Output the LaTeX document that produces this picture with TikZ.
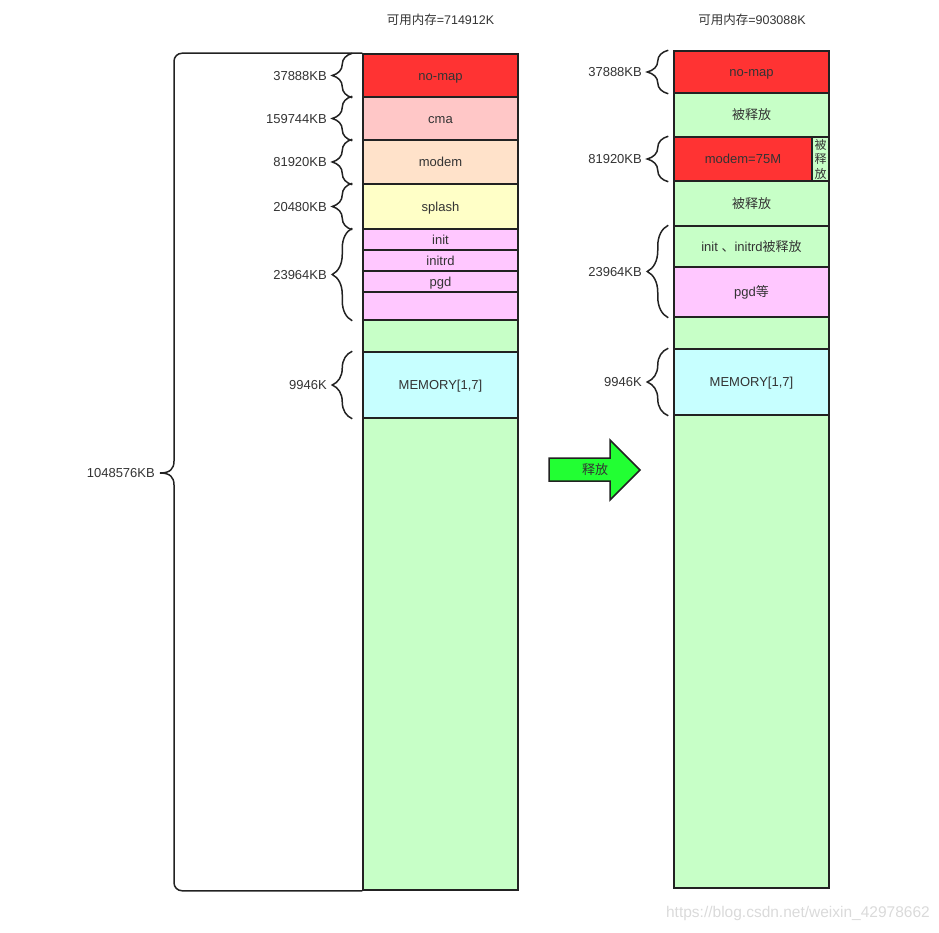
\documentclass[tikz,border=0pt]{standalone}
\usepackage{fontspec}
\setmainfont{Liberation Sans}
\newfontfamily\cjk{Noto Sans CJK SC}
\usetikzlibrary{decorations.pathreplacing,calc}
\definecolor{strokec}{HTML}{222222}
\definecolor{textc}{HTML}{333333}
\definecolor{redc}{HTML}{FF3333}
\definecolor{cmac}{HTML}{FFC7C7}
\definecolor{modemc}{HTML}{FFE2CA}
\definecolor{splashc}{HTML}{FFFFC7}
\definecolor{pinkc}{HTML}{FFC7FF}
\definecolor{greenc}{HTML}{C7FFC7}
\definecolor{memc}{HTML}{C7FFFF}
\definecolor{arrowc}{HTML}{22FF33}
\definecolor{wmc}{HTML}{DADADA}
\begin{document}
\begin{tikzpicture}[x=1pt,y=-1pt,
  blk/.style={draw=strokec, line width=1.5pt, minimum width=155pt, inner sep=0pt,
    font=\fontsize{13}{15}\selectfont, text=textc},
  one/.style={text height=9.3pt, text depth=0pt},
  lbl/.style={anchor=east, inner sep=0pt, font=\fontsize{13}{15}\selectfont, text=textc,
    text height=9.3pt, text depth=0pt},
  ttl/.style={inner sep=0pt, font=\fontsize{12.5}{15}\selectfont, text=textc,
    text height=9.3pt, text depth=0pt},
  brcL/.style={draw=strokec, line width=1.5pt, decorate, decoration={brace, amplitude=20pt}},
  brcR/.style={draw=strokec, line width=1.5pt, decorate, decoration={brace, amplitude=21pt}},
  bigbrc/.style={draw=strokec, line width=1.5pt},
  arr/.style={draw=strokec, line width=1.5pt, fill=arrowc, line join=miter}]
\useasboundingbox (0,0) rectangle (939,933);

% titles
\node[ttl] (titleL) at (440.5,20) {{\cjk 可用内存}=714912K};
\node[ttl] (titleR) at (752,20) {{\cjk 可用内存}=903088K};

% left column
\node[blk, one, fill=redc,    minimum height=43pt] (nomapL)  at (440.5,75.5)  {no-map};
\node[blk, one, fill=cmac,    minimum height=43pt] (cmaL)    at (440.5,118.5) {cma};
\node[blk, one, fill=modemc,  minimum height=44pt] (modemL)  at (440.5,162)   {modem};
\node[blk, one, fill=splashc, minimum height=45pt] (splashL) at (440.5,206.5) {splash};
\node[blk, one, fill=pinkc,   minimum height=21pt] (initL)   at (440.5,239.5) {init};
\node[blk, one, fill=pinkc,   minimum height=21pt] (initrdL) at (440.5,260.5) {initrd};
\node[blk, one, fill=pinkc,   minimum height=21pt] (pgdL)    at (440.5,281.5) {pgd};
\node[blk, fill=pinkc,   minimum height=28pt] (pinkL)   at (440.5,306)   {};
\node[blk, fill=greenc,  minimum height=32pt] (gapL)    at (440.5,336)   {};
\node[blk, one, fill=memc,    minimum height=66pt] (memL)    at (440.5,385)   {MEMORY[1,7]};
\node[blk, fill=greenc,  minimum height=472pt] (restL)  at (440.5,654)   {};

% left braces
\draw[brcL] ([xshift=-10pt]nomapL.south west) -- ([xshift=-10pt]nomapL.north west);
\draw[brcL] ([xshift=-10pt]cmaL.south west) -- ([xshift=-10pt]cmaL.north west);
\draw[brcL] ([xshift=-10pt]modemL.south west) -- ([xshift=-10pt]modemL.north west);
\draw[brcL] ([xshift=-10pt]splashL.south west) -- ([xshift=-10pt]splashL.north west);
\draw[brcL] ([xshift=-10pt]pinkL.south west) -- ([xshift=-10pt]initL.north west);
\draw[brcL] ([xshift=-10pt]memL.south west) -- ([xshift=-10pt]memL.north west);

\node[lbl] (l1) at (327,75.5)  {37888KB};
\node[lbl] (l2) at (327,118.5) {159744KB};
\node[lbl] (l3) at (327,162)   {81920KB};
\node[lbl] (l4) at (327,206.5) {20480KB};
\node[lbl] (l5) at (327,274.5) {23964KB};
\node[lbl] (l6) at (327,385)   {9946K};

% big brace
\draw[bigbrc] (nomapL.north west) [rounded corners=8pt] -| (174,300) [sharp corners]
  -- (174,461) .. controls (174,469) and (170,473) .. (160,473)
  .. controls (170,473) and (174,477) .. (174,485)
  [rounded corners=8pt] |- (restL.south west);
\node[lbl] (lbig) at (155,473) {1048576KB};

% arrow
\draw[arr] (549,458) -- (610,458) -- (610,440) -- (640,470) -- (610,500) -- (610,481) -- (549,481) -- cycle;
\node[ttl, font=\fontsize{13}{15}\selectfont] (arrtext) at (595,470) {\cjk 释放};

% right column
\node[blk, one, fill=redc,   minimum height=42pt] (nomapR) at (751.5,72)  {no-map};
\node[blk, one, fill=greenc, minimum height=44pt] (rel1R)  at (751.5,115) {\cjk 被释放};
\node[blk, one, fill=redc,   minimum height=44pt, minimum width=138pt] (modemR) at (743,159) {modem=75M};
\node[blk, fill=greenc, minimum height=44pt, minimum width=17pt, align=center,
      font=\cjk\fontsize{12}{14.5}\selectfont] (relsR) at (820.5,159) {被\\释\\放};
\node[blk, one, fill=greenc, minimum height=45pt] (rel2R)  at (751.5,203.5) {\cjk 被释放};
\node[blk, one, fill=greenc, minimum height=41pt] (initR)  at (751.5,246.5) {init {\cjk 、}initrd{\cjk 被释放}};
\node[blk, one, fill=pinkc,  minimum height=50pt] (pgdR)   at (751.5,292)   {pgd{\cjk 等}};
\node[blk, fill=greenc, minimum height=32pt] (gapR)   at (751.5,333)   {};
\node[blk, one, fill=memc,   minimum height=66pt] (memR)   at (751.5,382)   {MEMORY[1,7]};
\node[blk, fill=greenc, minimum height=473pt] (restR) at (751.5,651.5) {};

% right braces
\draw[brcR] ([xshift=-5pt]nomapR.south west) -- ([xshift=-5pt]nomapR.north west);
\draw[brcR] ([xshift=-5pt]modemR.south west) -- ([xshift=-5pt]modemR.north west);
\draw[brcR] ([xshift=-5pt]pgdR.south west) -- ([xshift=-5pt]initR.north west);
\draw[brcR] ([xshift=-5pt]memR.south west) -- ([xshift=-5pt]memR.north west);

\node[lbl] (r1) at (642,72)    {37888KB};
\node[lbl] (r2) at (642,159)   {81920KB};
\node[lbl] (r3) at (642,271.5) {23964KB};
\node[lbl] (r4) at (642,382)   {9946K};

% watermark
\node[anchor=east, inner sep=0pt, text=wmc, font=\fontsize{15.5}{17}\selectfont] (wm) at (930,913) {https://blog.csdn.net/weixin\_42978662};
\end{tikzpicture}
\end{document}
